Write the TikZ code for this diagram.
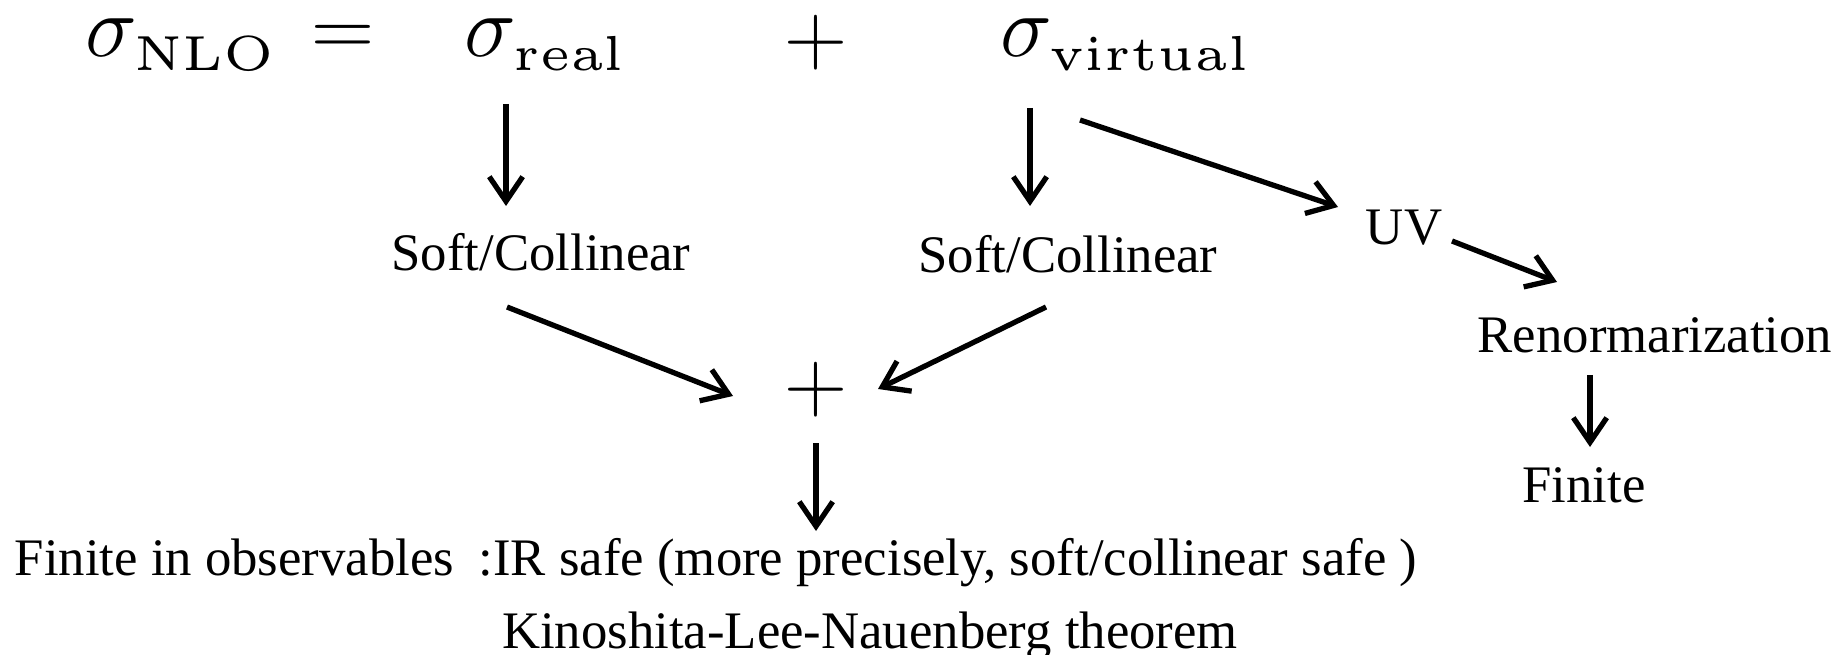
\documentclass[tikz,border=0pt]{standalone}
\usepackage[no-math]{fontspec}
\setmainfont{Liberation Serif}
\usetikzlibrary{arrows.meta}
\font\subfnt=cmr5 at 14pt
\newcommand{\mysub}[1]{\hbox{\subfnt #1}}
\tikzset{
  txt/.style={inner sep=0pt, font=\fontsize{15}{18}\selectfont, anchor=base},
  mth/.style={inner sep=0pt, font=\fontsize{28}{32}\selectfont, anchor=base},
  arr/.style={line width=1.5pt, -{Straight Barb[length=7pt,width=9.5pt,line width=1.5pt]}}
}
\begin{document}
\begin{tikzpicture}[x=0.01cm,y=-0.01cm]
\useasboundingbox (0,0) rectangle (1840,655);
% top equation
\node[mth,anchor=base west] (snlo) at (85,57) {$\sigma_{\mysub{NLO}}$};
\node[mth] (eq) at (343,57) {$=$};
\node[mth,anchor=base west] (sreal) at (464,57) {$\sigma_{\mysub{real}}$};
\node[mth,anchor=center] (plus1) at (816,43) {$+$};
\node[mth,anchor=base west] (svirt) at (1000,57) {$\sigma_{\mysub{virtual}}$};
% middle
\node[txt] (sc1) at (541,271) {Soft/Collinear};
\node[txt] (sc2) at (1068,273) {Soft/Collinear};
\node[txt] (uv) at (1404,245) {UV};
\node[txt] (ren) at (1655,353) {Renormarization};
\node[txt] (fin) at (1584,502) {Finite};
\node[mth,anchor=center] (plus2) at (816,390) {$+$};
% bottom
\node[txt,anchor=base west] (fio) at (14,575) {Finite in observables};
\node[txt,anchor=base west] (irs) at (478,575) {:IR safe (more precisely, soft/collinear safe )};
\node[txt] (kln) at (870,648) {Kinoshita-Lee-Nauenberg theorem};
% arrow endpoints
\coordinate (a1s) at (506,104); \coordinate (a1e) at (506,206);
\coordinate (a2s) at (1030,108); \coordinate (a2e) at (1030,206);
\coordinate (a3s) at (1080,120); \coordinate (a3e) at (1338,207);
\coordinate (a4s) at (1452,241); \coordinate (a4e) at (1557,282);
\coordinate (a5s) at (1590,375); \coordinate (a5e) at (1590,447);
\coordinate (a6s) at (507,307); \coordinate (a6e) at (733,396);
\coordinate (a7s) at (1046,307); \coordinate (a7e) at (878,389);
\coordinate (a8s) at (816,443); \coordinate (a8e) at (816,531);
\draw[arr] (a1s) -- (a1e);
\draw[arr] (a2s) -- (a2e);
\draw[arr] (a3s) -- (a3e);
\draw[arr] (a4s) -- (a4e);
\draw[arr] (a5s) -- (a5e);
\draw[arr] (a6s) -- (a6e);
\draw[arr] (a7s) -- (a7e);
\draw[arr] (a8s) -- (a8e);
\end{tikzpicture}
\end{document}
